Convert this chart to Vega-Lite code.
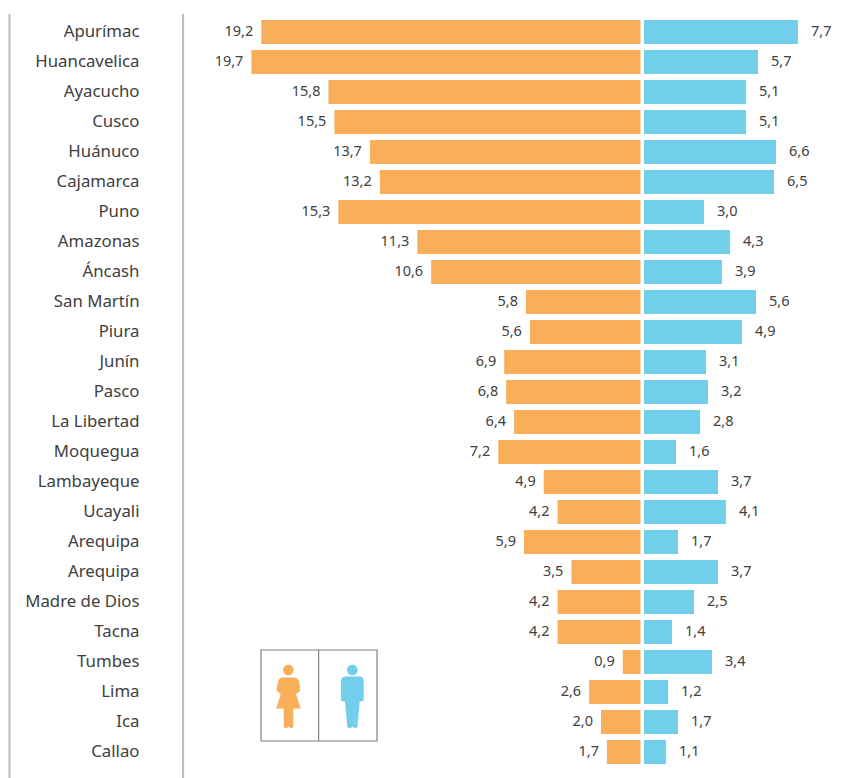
{
 "$schema":"https://vega.github.io/schema/vega-lite/v6.json",
 "width":839,"height":764,
 "autosize":"none",
 "padding":{"left":9,"top":14,"right":0,"bottom":0},
 "background":"white",
 "config":{"view":{"stroke":null},"font":"Noto Sans","locale":{"number":{"decimal":",","thousands":".","grouping":[3],"currency":["","€"]}}},
 "datasets":{
  "filas":[
   {"region":"Apurímac","mujer":19.2,"hombre":7.7},
   {"region":"Huancavelica","mujer":19.7,"hombre":5.7},
   {"region":"Ayacucho","mujer":15.8,"hombre":5.1},
   {"region":"Cusco","mujer":15.5,"hombre":5.1},
   {"region":"Huánuco","mujer":13.7,"hombre":6.6},
   {"region":"Cajamarca","mujer":13.2,"hombre":6.5},
   {"region":"Puno","mujer":15.3,"hombre":3.0},
   {"region":"Amazonas","mujer":11.3,"hombre":4.3},
   {"region":"Áncash","mujer":10.6,"hombre":3.9},
   {"region":"San Martín","mujer":5.8,"hombre":5.6},
   {"region":"Piura","mujer":5.6,"hombre":4.9},
   {"region":"Junín","mujer":6.9,"hombre":3.1},
   {"region":"Pasco","mujer":6.8,"hombre":3.2},
   {"region":"La Libertad","mujer":6.4,"hombre":2.8},
   {"region":"Moquegua","mujer":7.2,"hombre":1.6},
   {"region":"Lambayeque","mujer":4.9,"hombre":3.7},
   {"region":"Ucayali","mujer":4.2,"hombre":4.1},
   {"region":"Arequipa","mujer":5.9,"hombre":1.7},
   {"region":"Arequipa ","mujer":3.5,"hombre":3.7},
   {"region":"Madre de Dios","mujer":4.2,"hombre":2.5},
   {"region":"Tacna","mujer":4.2,"hombre":1.4},
   {"region":"Tumbes","mujer":0.9,"hombre":3.4},
   {"region":"Lima","mujer":2.6,"hombre":1.2},
   {"region":"Ica","mujer":2.0,"hombre":1.7},
   {"region":"Callao","mujer":1.7,"hombre":1.1}
  ]
 },
 "resolve":{"scale":{"x":"independent","y":"independent"},"axis":{"x":"independent","y":"independent"}},
 "layer":[
  {
   "data":{"values":[{"p":31.95},{"p":23.16}]},
   "mark":{"type":"rule","color":"#bbbbbb","strokeWidth":2,"clip":false},
   "encoding":{"x":{"field":"p","type":"quantitative","axis":null,"scale":{"domain":[31.975,-10.506]}}}
  },
  {
   "data":{"name":"filas"},
   "mark":{"type":"bar","color":"#F9AE5A","clip":false},
   "encoding":{
    "y":{"field":"region","type":"nominal","sort":null,"title":null,
     "scale":{"range":[3,753],"paddingInner":0.2,"paddingOuter":0.1},
     "axis":{"domain":false,"ticks":false,"labelPadding":-130,"labelAlign":"right","labelFontSize":16.8,"labelColor":"#404040","labelFont":"Noto Sans"}},
    "x":{"field":"mujer","type":"quantitative","axis":null,"scale":{"domain":[31.975,-10.506]}}
   }
  },
  {
   "data":{"name":"filas"},
   "mark":{"type":"bar","color":"#72CFEB"},
   "encoding":{
    "y":{"field":"region","type":"nominal","sort":null,"axis":null,"scale":{"range":[3,753],"paddingInner":0.2,"paddingOuter":0.1}},
    "x":{"field":"hombre","type":"quantitative","axis":null,"scale":{"domain":[-31.75,10.2]}}
   }
  },
  {
   "data":{"name":"filas"},
   "mark":{"type":"text","align":"right","baseline":"middle","dx":-8,"fontSize":14.5,"color":"#404040"},
   "encoding":{
    "y":{"field":"region","type":"nominal","sort":null,"axis":null,"scale":{"range":[3,753],"paddingInner":0.2,"paddingOuter":0.1}},
    "x":{"field":"mujer","type":"quantitative","axis":null,"scale":{"domain":[31.975,-10.506]}},
    "text":{"field":"mujer","type":"quantitative","format":".1f"}
   }
  },
  {
   "data":{"name":"filas"},
   "mark":{"type":"text","align":"left","baseline":"middle","dx":13,"fontSize":14.5,"color":"#404040"},
   "encoding":{
    "y":{"field":"region","type":"nominal","sort":null,"axis":null,"scale":{"range":[3,753],"paddingInner":0.2,"paddingOuter":0.1}},
    "x":{"field":"hombre","type":"quantitative","axis":null,"scale":{"domain":[-31.75,10.2]}},
    "text":{"field":"hombre","type":"quantitative","format":".1f"}
   }
  },
  {
   "data":{"values":[{"x0":19.215,"x1":13.34,"y0":21.1,"y1":24.133}]},
   "mark":{"type":"rect","fill":null,"stroke":"#808080","strokeWidth":1.2},
   "encoding":{
    "x":{"field":"x0","type":"quantitative","axis":null,"scale":{"domain":[31.975,-10.506]}},
    "x2":{"field":"x1"},
    "y":{"field":"y0","type":"quantitative","axis":null,"scale":{"domain":[25.367,-0.1]}},
    "y2":{"field":"y1"}
   }
  },
  {
   "data":{"values":[{"x0":16.3,"y0":21.1,"y1":24.133}]},
   "mark":{"type":"rule","color":"#808080","strokeWidth":1.2},
   "encoding":{
    "x":{"field":"x0","type":"quantitative","axis":null,"scale":{"domain":[31.975,-10.506]}},
    "y":{"field":"y0","type":"quantitative","axis":null,"scale":{"domain":[25.367,-0.1]}},
    "y2":{"field":"y1"}
   }
  },
  {
   "data":{"values":[{"x0":17.83,"y0":22.65}]},
   "mark":{"type":"point","filled":true,"opacity":1,"strokeWidth":0,"color":"#F9AE5A","size":4356,
    "shape":"M-0.16,-0.8A0.16,0.16 0 1 1 0.16,-0.8A0.16,0.16 0 1 1 -0.16,-0.8ZM-0.2,-0.576L0.2,-0.576Q0.31,-0.55 0.333,-0.404L0.364,-0.182L0.232,-0.071L0.374,0.364L0.152,0.364L0.152,0.93L0.07,0.96L0.01,0.91L-0.05,0.96L-0.14,0.93L-0.14,0.364L-0.374,0.364L-0.232,-0.071L-0.364,-0.182L-0.323,-0.404Q-0.3,-0.55 -0.2,-0.576Z"},
   "encoding":{
    "x":{"field":"x0","type":"quantitative","axis":null,"scale":{"domain":[31.975,-10.506]}},
    "y":{"field":"y0","type":"quantitative","axis":null,"scale":{"domain":[25.367,-0.1]}}
   }
  },
  {
   "data":{"values":[{"x0":14.59,"y0":22.65}]},
   "mark":{"type":"point","filled":true,"opacity":1,"strokeWidth":0,"color":"#72CFEB","size":4356,
    "shape":"M-0.16,-0.8A0.16,0.16 0 1 1 0.16,-0.8A0.16,0.16 0 1 1 -0.16,-0.8ZM-0.222,-0.606L0.232,-0.606Q0.343,-0.6 0.343,-0.455L0.343,0.131L0.222,0.162L0.152,0.93L0.08,0.96L0.01,0.91L-0.07,0.96L-0.152,0.93L-0.222,0.162L-0.343,0.131L-0.343,-0.455Q-0.343,-0.6 -0.222,-0.606Z"},
   "encoding":{
    "x":{"field":"x0","type":"quantitative","axis":null,"scale":{"domain":[31.975,-10.506]}},
    "y":{"field":"y0","type":"quantitative","axis":null,"scale":{"domain":[25.367,-0.1]}}
   }
  }
 ]
}
